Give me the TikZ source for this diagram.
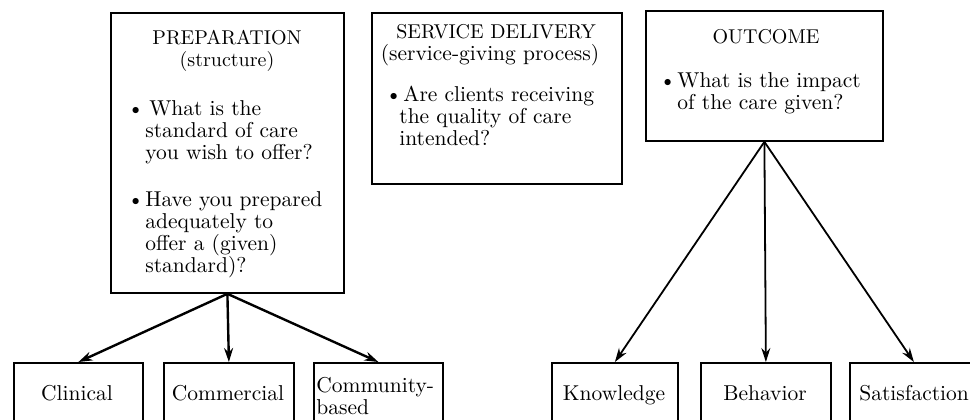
\documentclass[tikz,border=0pt]{standalone}
\usetikzlibrary{arrows.meta}
\begin{document}
\begin{tikzpicture}[x=0.5pt,y=-0.5pt,
  box/.style={draw, line width=0.9pt, inner sep=0pt, anchor=north west},
  txt/.style={inner sep=0pt, font=\fontsize{10.75}{11}\selectfont},
  ttl/.style={inner sep=0pt, font=\fontsize{10}{11}\selectfont},
  para/.style={txt, anchor=north west, align=left},
  arrL/.style={line width=1.2pt, -{Stealth[length=7pt,width=4.5pt]}},
  arrR/.style={line width=0.9pt, -{Stealth[length=7pt,width=4.5pt]}}]
\useasboundingbox (0,0) rectangle (970,419);
\clip (0,0) rectangle (970,419);
% upper boxes
\node[box, minimum width=116.5pt, minimum height=140pt] (prep) at (110,12) {};
\node[box, minimum width=125pt, minimum height=85.5pt] (serv) at (371,12) {};
\node[box, minimum width=118.5pt, minimum height=65pt] (out) at (645,10) {};
% lower boxes
\node[box, minimum width=64.5pt, minimum height=40pt] (clin) at (13,362) {};
\node[box, minimum width=65pt, minimum height=40pt] (comm) at (163,362) {};
\node[box, minimum width=64.5pt, minimum height=40pt] (cmty) at (313,362) {};
\node[box, minimum width=63pt, minimum height=40pt] (know) at (551,362) {};
\node[box, minimum width=65pt, minimum height=40pt] (beh) at (700,362) {};
\node[box, minimum width=64pt, minimum height=40pt] (sat) at (849,362) {};
% texts: preparation
\node[ttl, anchor=base] (preptitle) at (227,44) {PREPARATION};
\node[ttl, anchor=base] (prepsub) at (227,66) {(structure)};
\node[para] (prepq1) at (127,100) {\makebox[9pt][l]{\textbullet}\hspace{2pt}What is the\\
  \hspace*{9pt}standard of care\\
  \hspace*{9pt}you wish to offer?};
\node[para] (prepq2) at (127,191) {\makebox[9pt][l]{\textbullet}Have you prepared\\
  \hspace*{9pt}adequately to\\
  \hspace*{9pt}offer a (given)\\
  \hspace*{9pt}standard)?};
% service delivery
\node[ttl, anchor=base] (servtitle) at (496,38) {SERVICE DELIVERY};
\node[txt, anchor=base] (servsub) at (490,60) {(service-giving process)};
\node[para] (servq) at (385,86) {\makebox[7pt][l]{\textbullet}\hspace{2pt}Are clients receiving\\
  \hspace*{7pt}the quality of care\\
  \hspace*{7pt}intended?};
% outcome
\node[ttl, anchor=base] (outtitle) at (766,43) {OUTCOME};
\node[para] (outq) at (659,72) {\makebox[9pt][l]{\textbullet}What is the impact\\
  \hspace*{9pt}of the care given?};
% lower texts
\node[txt, anchor=base] (clint) at (77,400) {Clinical};
\node[txt, anchor=base] (commt) at (228,400) {Commercial};
\node[txt, anchor=north west, align=left] (cmtyt) at (316,377) {Community-\\based};
\node[txt, anchor=base] (knowt) at (614,400) {Knowledge};
\node[txt, anchor=base] (beht) at (765,400) {Behavior};
\node[txt, anchor=base west] (satt) at (859,400) {Satisfaction};
% connectors
\draw[arrL] (prep.south) -- (clin.north);
\draw[arrL] (prep.south) -- (comm.north);
\draw[arrL] (prep.south) -- (cmty.north);
\draw[arrR] (out.south) -- (know.north);
\draw[arrR] (out.south) -- (beh.north);
\draw[arrR] (out.south) -- (sat.north);
\end{tikzpicture}
\end{document}
